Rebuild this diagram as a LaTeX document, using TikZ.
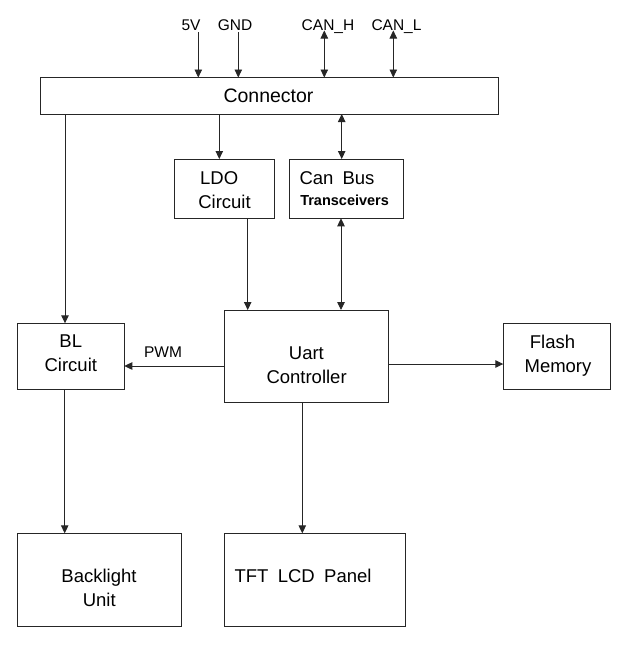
\documentclass[tikz,border=0pt]{standalone}
\usepackage{fontspec}
\setmainfont{Liberation Sans}
\usetikzlibrary{arrows.meta}
\begin{document}
\begin{tikzpicture}[x=1pt,y=-1pt,
  >={Triangle[length=8pt,width=7.5pt]},
  box/.style={draw=black!85,line width=1pt,inner sep=0pt,outer sep=0pt},
  txt/.style={inner sep=0pt,anchor=base,font=\fontsize{18.5}{24}\selectfont},
  small/.style={inner sep=0pt,anchor=base,font=\fontsize{15.5}{18}\selectfont},
  link/.style={draw=black!85,fill=black,line width=0.9pt}]
\useasboundingbox (0,0) rectangle (626,646);

% boxes
\node[box,minimum width=458.5pt,minimum height=36.5pt] (conn) at (269.25,95.75) {};
\node[box,minimum width=100pt,minimum height=59.3pt] (ldo) at (224.3,188.65) {};
\node[box,minimum width=114pt,minimum height=59.3pt] (can) at (346.3,188.65) {};
\node[box,minimum width=107pt,minimum height=66pt] (bl) at (70.8,356.3) {};
\node[box,minimum width=164.3pt,minimum height=92.5pt] (uart) at (306.15,356.25) {};
\node[box,minimum width=107pt,minimum height=66pt] (flash) at (556.8,356.3) {};
\node[box,minimum width=164.4pt,minimum height=92.7pt] (back) at (99.5,579.65) {};
\node[box,minimum width=181pt,minimum height=92.7pt] (tft) at (314.5,579.65) {};

% texts
\node[txt,font=\fontsize{19.5}{24}\selectfont] (connT) at (268.5,102.5) {Connector};
\node[txt] (ldoT1) at (219.2,184) {LDO};
\node[txt] (ldoT2) at (224.5,208) {Circuit};
\node[txt] (canT1) at (337,184) {Can\hspace{9pt}Bus};
\node[txt,font=\fontsize{14.5}{18}\selectfont\bfseries] (canT2) at (344.6,205) {Transceivers};
\node[txt] (blT1) at (70.8,347.7) {BL};
\node[txt] (blT2) at (70.8,371.5) {Circuit};
\node[txt] (uartT1) at (306.4,359.3) {Uart};
\node[txt] (uartT2) at (306.6,383) {Controller};
\node[txt] (flashT1) at (552.5,348.3) {Flash};
\node[txt] (flashT2) at (558,372) {Memory};
\node[txt] (backT1) at (99,582.3) {Backlight};
\node[txt] (backT2) at (99.2,606) {Unit};
\node[txt,anchor=base west] (tftT) at (234.3,582.3) {TFT\hspace{9.4pt}LCD\hspace{9.4pt}Panel};

% top labels
\node[small] (l5v) at (191,30) {5V};
\node[small] (lgnd) at (235,30) {GND};
\node[small] (lch) at (328,30) {CAN\_H};
\node[small] (lcl) at (396.5,30) {CAN\_L};
\node[small] (lpwm) at (163,357.3) {PWM};

\coordinate (p5v) at (198.3,32);
\coordinate (pgnd) at (238.3,32);
\coordinate (pch) at (324.3,30.5);
\coordinate (pcl) at (393.3,30.5);

% connectors
\draw[link,->] (p5v) -- (p5v |- conn.north);
\draw[link,->] (pgnd) -- (pgnd |- conn.north);
\draw[link,<->] (pch) -- (pch |- conn.north);
\draw[link,<->] (pcl) -- (pcl |- conn.north);

\draw[link,->] (65,0 |- conn.south) -- (65,0 |- bl.north);
\draw[link,->] (219.3,0 |- conn.south) -- (219.3,0 |- ldo.north);
\draw[link,<->] (341.7,0 |- conn.south) -- (341.7,0 |- can.north);
\draw[link,->] (247.7,0 |- ldo.south) -- (247.7,0 |- uart.north);
\draw[link,<->] (341,0 |- can.south) -- (341,0 |- uart.north);
\draw[link,->] (0,366 -| uart.west) -- (0,366 -| bl.east);
\draw[link,->] (0,364 -| uart.east) -- (0,364 -| flash.west);
\draw[link,->] (64.7,0 |- bl.south) -- (64.7,0 |- back.north);
\draw[link,->] (302.3,0 |- uart.south) -- (302.3,0 |- tft.north);
\end{tikzpicture}
\end{document}
